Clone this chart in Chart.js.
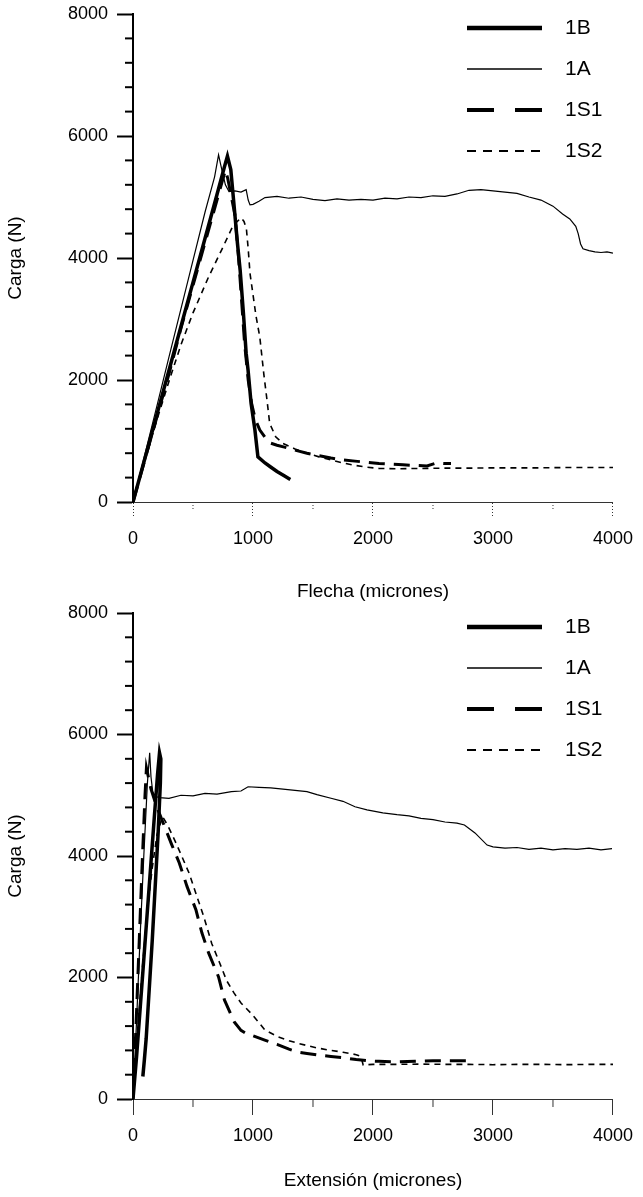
<!DOCTYPE html>
<html>
<head>
<meta charset="utf-8">
<script src="https://cdn.jsdelivr.net/npm/chart.js@4.4.1/dist/chart.umd.min.js"></script>
<style>
  html, body { margin: 0; padding: 0; background: #fff; }
  canvas { display: block; }
  #chartExtension { margin-top: -6px; }
</style>
</head>
<body>
<canvas id="chartFlecha" width="643" height="605"></canvas>
<canvas id="chartExtension" width="643" height="598"></canvas>
<script>
// --- Flecha (micrones) vs Carga (N) ---
const flecha1B_x = [0, 100, 200, 300, 400, 500, 600, 700, 760, 787, 815, 845, 870, 893, 920, 943, 959, 984, 1016, 1041, 1100, 1150, 1200, 1260, 1311];
const flecha1B_y = [0, 720, 1440, 2160, 2880, 3600, 4320, 5040, 5480, 5670, 5450, 4800, 4250, 3800, 3100, 2440, 2160, 1620, 1180, 740, 640, 570, 500, 430, 370];

const flecha1A_x = [0, 100, 200, 300, 400, 500, 600, 680, 713, 740, 770, 800, 850, 900, 943, 960, 975, 1000, 1050, 1100, 1200, 1300, 1400, 1500, 1600, 1700, 1800, 1900, 2000, 2100, 2200, 2300, 2400, 2500, 2600, 2700, 2800, 2900, 3000, 3100, 3200, 3300, 3400, 3500, 3580, 3640, 3690, 3710, 3730, 3750, 3800, 3850, 3900, 3950, 4000];
const flecha1A_y = [0, 790, 1580, 2380, 3170, 3960, 4750, 5330, 5690, 5450, 5200, 5090, 5100, 5080, 5120, 4950, 4870, 4880, 4930, 4990, 5010, 4980, 5000, 4960, 4940, 4970, 4950, 4960, 4950, 4980, 4970, 5000, 4990, 5020, 5010, 5050, 5110, 5120, 5100, 5080, 5060, 5000, 4950, 4850, 4720, 4640, 4520, 4400, 4230, 4150, 4120, 4100, 4090, 4100, 4080];

const flecha1S1_x = [0, 100, 200, 300, 400, 500, 600, 700, 750, 770, 790, 820, 850, 880, 905, 930, 960, 990, 1020, 1057, 1100, 1140, 1200, 1262, 1350, 1450, 1550, 1650, 1750, 1850, 1950, 2050, 2150, 2250, 2350, 2450, 2530, 2600, 2650];
const flecha1S1_y = [0, 700, 1400, 2100, 2850, 3550, 4250, 4950, 5300, 5440, 5300, 5000, 4700, 4000, 3300, 2600, 2000, 1600, 1350, 1180, 1060, 970, 930, 900, 850, 800, 760, 720, 690, 670, 650, 630, 620, 610, 600, 590, 640, 630, 630];

const flecha1S2_x = [0, 100, 200, 300, 400, 500, 630, 738, 836, 902, 925, 945, 960, 975, 1000, 1025, 1057, 1090, 1115, 1139, 1189, 1250, 1350, 1451, 1550, 1650, 1750, 1850, 1950, 2050, 2200, 2400, 2600, 2800, 3000, 3200, 3400, 3600, 3800, 4000];
const flecha1S2_y = [0, 680, 1350, 1980, 2580, 3100, 3690, 4130, 4540, 4660, 4600, 4480, 4150, 3750, 3400, 3050, 2700, 2100, 1700, 1290, 1070, 960, 870, 800, 740, 690, 640, 600, 570, 550, 545, 550, 555, 555, 560, 560, 560, 565, 565, 565];

// --- Extensión (micrones) vs Carga (N) ---
const ext1B_x = [0, 30, 60, 90, 120, 150, 180, 205, 221, 232, 228, 210, 185, 160, 135, 110, 95, 82];
const ext1B_y = [0, 700, 1500, 2300, 3100, 3900, 4700, 5350, 5700, 5600, 5200, 4400, 3500, 2600, 1800, 1000, 650, 370];

const ext1A_x = [0, 30, 60, 90, 120, 139, 150, 165, 190, 221, 300, 400, 500, 600, 700, 820, 900, 959, 1050, 1148, 1250, 1350, 1450, 1533, 1650, 1750, 1850, 1950, 2082, 2200, 2300, 2400, 2500, 2600, 2700, 2762, 2850, 2951, 3000, 3100, 3200, 3300, 3400, 3500, 3600, 3700, 3800, 3900, 3992];
const ext1A_y = [0, 1300, 2700, 4000, 5200, 5700, 5300, 5050, 4980, 4960, 4950, 5000, 4990, 5030, 5020, 5060, 5070, 5140, 5130, 5120, 5100, 5080, 5060, 5010, 4950, 4900, 4810, 4760, 4710, 4680, 4660, 4620, 4600, 4560, 4540, 4510, 4380, 4180, 4150, 4130, 4140, 4110, 4130, 4100, 4120, 4110, 4130, 4100, 4120];

const ext1S1_x = [0, 25, 50, 75, 100, 112, 150, 200, 260, 320, 385, 450, 525, 574, 631, 713, 762, 844, 900, 934, 1000, 1098, 1200, 1300, 1369, 1450, 1533, 1650, 1750, 1860, 1950, 2050, 2200, 2350, 2500, 2650, 2800];
const ext1S1_y = [0, 1200, 2500, 3800, 5000, 5450, 5100, 4800, 4500, 4200, 3890, 3500, 3110, 2735, 2400, 2010, 1630, 1270, 1130, 1090, 1040, 970, 900, 820, 775, 750, 725, 700, 680, 650, 630, 620, 610, 620, 630, 630, 630];

const ext1S2_x = [0, 40, 80, 120, 160, 200, 246, 290, 350, 410, 467, 530, 590, 656, 720, 780, 840, 900, 984, 1040, 1098, 1200, 1300, 1369, 1450, 1533, 1650, 1750, 1860, 1900, 1918, 2000, 2200, 2400, 2600, 2800, 3000, 3200, 3400, 3600, 3800, 4000];
const ext1S2_y = [0, 1100, 2200, 3100, 3800, 4350, 4650, 4500, 4250, 3980, 3720, 3350, 3000, 2560, 2250, 1950, 1750, 1580, 1410, 1280, 1140, 1030, 960, 920, 880, 840, 800, 770, 730, 700, 560, 570, 570, 575, 570, 570, 565, 570, 570, 565, 570, 570];

const etiquetas = ['1B', '1A', '1S1', '1S2'];
const fuente = '"Liberation Sans", Arial, Helvetica, sans-serif';

const pares = (xs, ys) => xs.map((x, i) => ({ x: x, y: ys[i] }));

function series(d1B, d1A, d1S1, d1S2) {
    return [
        { label: etiquetas[0], data: d1B, borderWidth: 3.5, borderDash: [], legendWidth: 4.5, legendDash: [] },
        { label: etiquetas[1], data: d1A, borderWidth: 1.2, borderDash: [], legendWidth: 1.4, legendDash: [] },
        { label: etiquetas[2], data: d1S1, borderWidth: 3, borderDash: [16, 9], legendWidth: 4, legendDash: [27, 21] },
        { label: etiquetas[3], data: d1S2, borderWidth: 1.6, borderDash: [6, 5], legendWidth: 2, legendDash: [9, 7] }
    ].map(ds => Object.assign(ds, {
        borderColor: '#000', backgroundColor: '#000', fill: false,
        pointRadius: 0, tension: 0, borderCapStyle: 'butt'
    }));
}

// leyenda dentro del area del grafico, arriba a la derecha
const leyendaInterna = {
    id: 'leyendaInterna',
    afterDraw(chart) {
        const ctx = chart.ctx, area = chart.chartArea;
        ctx.save();
        chart.data.datasets.forEach((ds, i) => {
            const yy = area.top + 14 + i * 41;
            ctx.beginPath();
            ctx.strokeStyle = '#000';
            ctx.lineWidth = ds.legendWidth;
            ctx.setLineDash(ds.legendDash);
            ctx.moveTo(467, yy);
            ctx.lineTo(542, yy);
            ctx.stroke();
            ctx.setLineDash([]);
            ctx.fillStyle = '#000';
            ctx.font = '21px ' + fuente;
            ctx.textAlign = 'left';
            ctx.textBaseline = 'middle';
            ctx.fillText(ds.label, 565, yy);
        });
        ctx.restore();
    }
};

// marcas menores de los ejes
const marcasMenores = {
    id: 'marcasMenores',
    afterDraw(chart, args, opts) {
        const ctx = chart.ctx, sx = chart.scales.x, sy = chart.scales.y;
        ctx.save();
        ctx.strokeStyle = '#000';
        ctx.lineWidth = 2;
        for (let v = 400; v < 8000; v += 400) {
            if (v % 2000 === 0) continue;
            const py = sy.getPixelForValue(v);
            ctx.beginPath(); ctx.moveTo(sx.left - 8, py); ctx.lineTo(sx.left, py); ctx.stroke();
        }
        ctx.strokeStyle = '#333';
        ctx.lineWidth = 1;
        ctx.setLineDash(opts.dash || []);
        for (let v = 500; v < 4000; v += 1000) {
            const px = sx.getPixelForValue(v);
            ctx.beginPath(); ctx.moveTo(px, sy.bottom); ctx.lineTo(px, sy.bottom + 8); ctx.stroke();
        }
        ctx.restore();
    }
};

function crearGrafico(id, datasets, tituloX, punteado, margenSup, altoX, padTitulo) {
    const dash = punteado ? [1, 2] : [];
    return new Chart(document.getElementById(id), {
        type: 'line',
        data: { datasets: datasets },
        options: {
            responsive: false,
            animation: false,
            layout: { padding: { top: margenSup, right: 22, left: 0, bottom: 0 } },
            plugins: {
                legend: { display: false },
                tooltip: { enabled: false },
                marcasMenores: { dash: dash }
            },
            scales: {
                x: {
                    type: 'linear', min: 0, max: 4000,
                    ticks: { stepSize: 1000, color: '#000', font: { size: 18, family: fuente }, padding: 10, maxRotation: 0, callback: v => String(v) },
                    grid: { drawOnChartArea: false, drawTicks: true, tickLength: 16, tickColor: '#333', tickWidth: 1, tickBorderDash: dash },
                    border: { color: '#333', width: 1, dash: dash },
                    title: { display: true, text: tituloX, color: '#000', font: { size: 19, family: fuente }, padding: { top: 0, bottom: padTitulo } },
                    afterFit(s) { s.height = altoX; }
                },
                y: {
                    min: 0, max: 8000,
                    ticks: { stepSize: 2000, color: '#000', font: { size: 18, family: fuente }, padding: 9, callback: v => String(v) },
                    grid: { drawOnChartArea: false, drawTicks: true, tickLength: 16, tickColor: '#000', tickWidth: 2 },
                    border: { color: '#000', width: 2 },
                    title: { display: true, text: 'Carga (N)', color: '#000', font: { size: 19, family: fuente }, padding: { top: 4, bottom: 0 } },
                    afterFit(s) { s.width = 133; s.paddingTop = 0; s.paddingBottom = 0; }
                }
            }
        },
        plugins: [leyendaInterna, marcasMenores]
    });
}

crearGrafico('chartFlecha',
    series(pares(flecha1B_x, flecha1B_y), pares(flecha1A_x, flecha1A_y), pares(flecha1S1_x, flecha1S1_y), pares(flecha1S2_x, flecha1S2_y)),
    'Flecha (micrones)', true, 14, 103, 2);

crearGrafico('chartExtension',
    series(pares(ext1B_x, ext1B_y), pares(ext1A_x, ext1A_y), pares(ext1S1_x, ext1S1_y), pares(ext1S2_x, ext1S2_y)),
    'Extensión (micrones)', false, 14, 98, 5);
</script>
</body>
</html>
